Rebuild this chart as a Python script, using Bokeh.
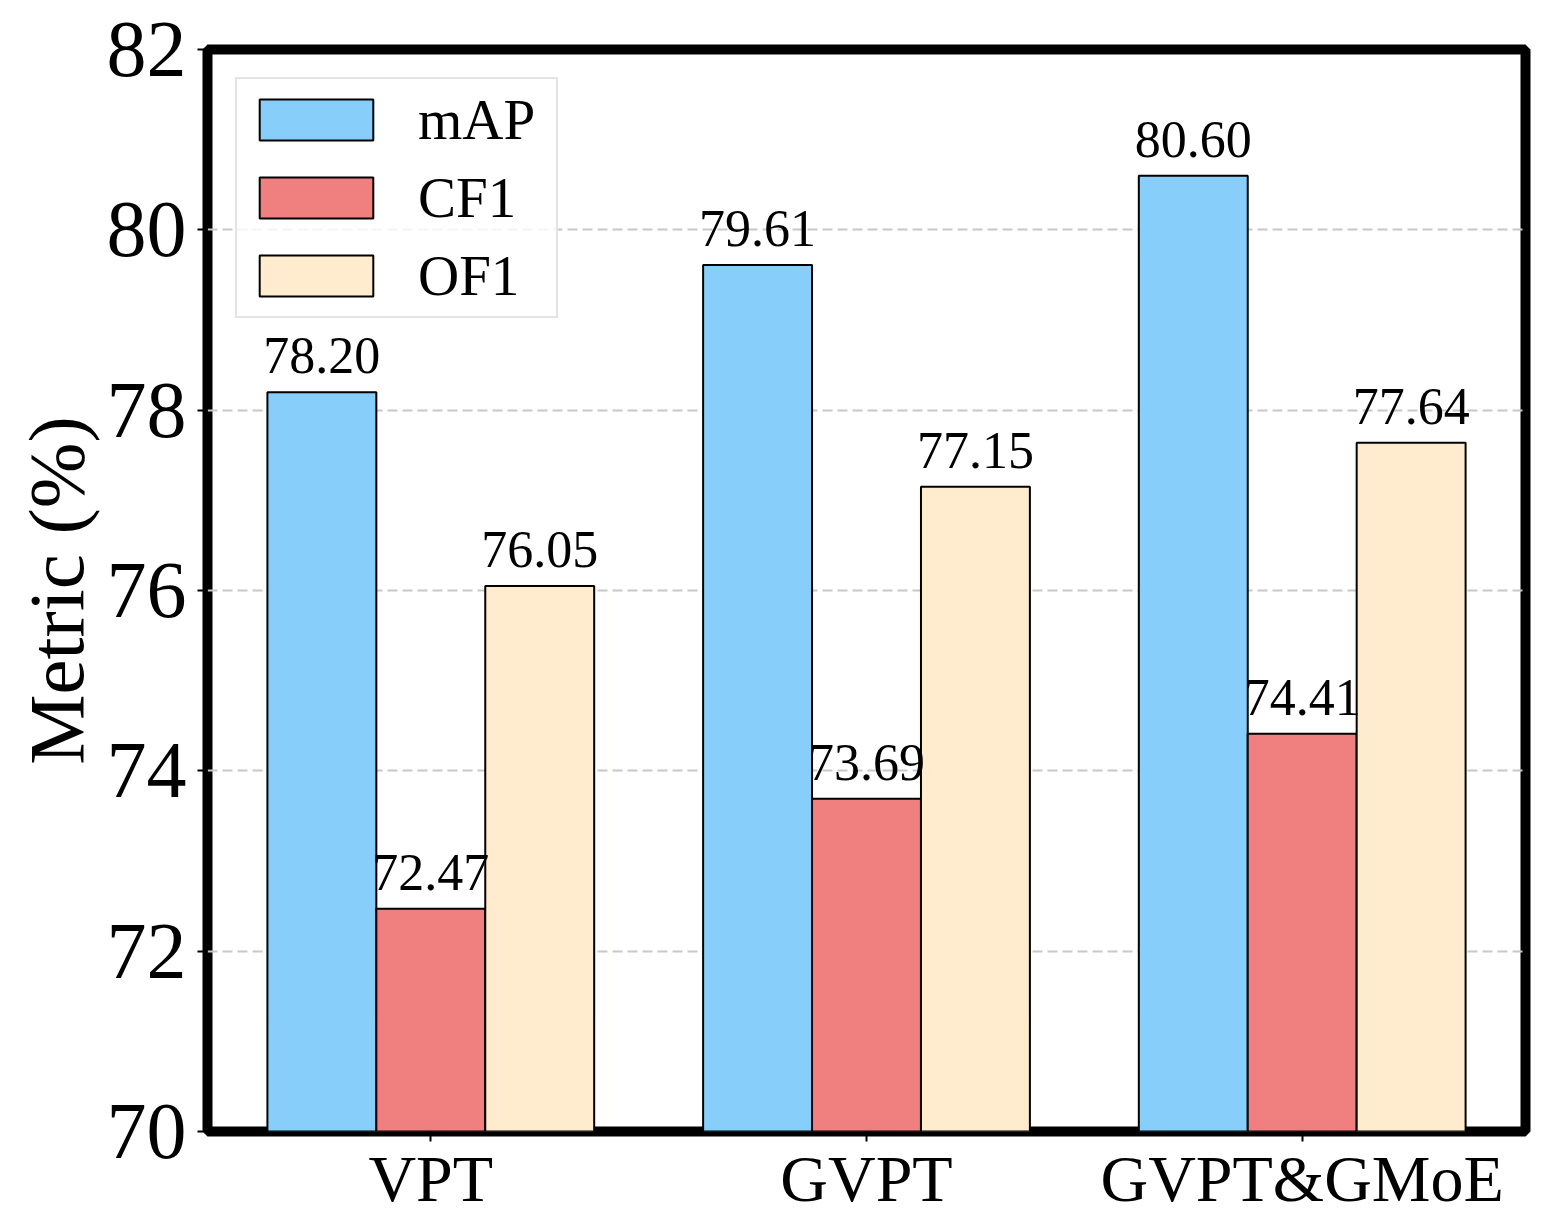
from bokeh.plotting import figure
from bokeh.models import ColumnDataSource, FixedTicker, Range1d, LabelSet
from bokeh.embed import file_html
from bokeh.resources import INLINE

methods = ["VPT", "GVPT", "GVPT&GMoE"]
series = ["mAP", "CF1", "OF1"]
mAP = [78.20, 79.61, 80.60]
CF1 = [72.47, 73.69, 74.41]
OF1 = [76.05, 77.15, 77.64]
colors = ["#87CEFA", "#F08080", "#FFEBCD"]
y_ticks = [70, 72, 74, 76, 78, 80, 82]

FONT = "Liberation Serif"
BAR_W = 0.25
offsets = [-BAR_W, 0.0, BAR_W]

p = figure(frame_width=1318, frame_height=1082,
           x_range=Range1d(-0.5125, 2.5125), y_range=Range1d(70, 82),
           output_backend="svg", toolbar_location=None,
           min_border_left=207, min_border_top=49, min_border_right=12, min_border_bottom=10)

values = [mAP, CF1, OF1]
for name, vals, col, off in zip(series, values, colors, offsets):
    xs = [i + off for i in range(len(methods))]
    src = ColumnDataSource(dict(x=xs, top=vals, lab=["%.2f" % v for v in vals]))
    p.vbar(x="x", top="top", bottom=70, width=BAR_W, source=src,
           fill_color=col, line_color="black", line_width=2, legend_label=name)
    labels = LabelSet(x="x", y="top", text="lab", source=src, text_align="center",
                      text_baseline="alphabetic", y_offset=19,
                      text_font=FONT, text_font_size="52px", text_color="black")
    p.add_layout(labels)

p.outline_line_color = "black"
p.outline_line_width = 10

p.xgrid.visible = False
p.ygrid.ticker = FixedTicker(ticks=y_ticks)
p.ygrid.grid_line_color = "#c8c8c8"
p.ygrid.grid_line_width = 2
p.ygrid.grid_line_dash = "10 5"

p.xaxis.ticker = FixedTicker(ticks=list(range(len(methods))))
p.xaxis.major_label_overrides = {i: m for i, m in enumerate(methods)}
p.yaxis.ticker = FixedTicker(ticks=y_ticks)
for ax in (p.xaxis, p.yaxis):
    ax.axis_line_color = None
    ax.major_tick_line_color = "black"
    ax.major_tick_line_width = 2
    ax.major_tick_out = 10
    ax.major_tick_in = 0
    ax.minor_tick_line_color = None
    ax.major_label_text_font = FONT
    ax.major_label_text_color = "black"

p.xaxis.major_label_text_font_size = "66px"
p.xaxis.major_label_standoff = 0
p.yaxis.major_label_text_font_size = "80px"
p.yaxis.major_label_standoff = 11
p.yaxis.axis_label = "Metric (%)"
p.yaxis.axis_label_text_font = FONT
p.yaxis.axis_label_text_font_size = "79px"
p.yaxis.axis_label_text_font_style = "normal"
p.yaxis.axis_label_text_color = "black"
p.yaxis.axis_label_standoff = 4

leg = p.legend[0]
leg.location = "top_left"
leg.margin = 28
leg.padding = 8
leg.spacing = 13
leg.glyph_width = 142
leg.glyph_height = 51
leg.label_standoff = 31
leg.label_width = 130
leg.label_text_font = FONT
leg.label_text_font_size = "57px"
leg.label_text_color = "black"
leg.background_fill_alpha = 0.8
leg.border_line_color = "#dddddd"
leg.border_line_width = 2
leg.border_line_alpha = 0.8

open("out.html", "w").write(file_html(p, INLINE))
